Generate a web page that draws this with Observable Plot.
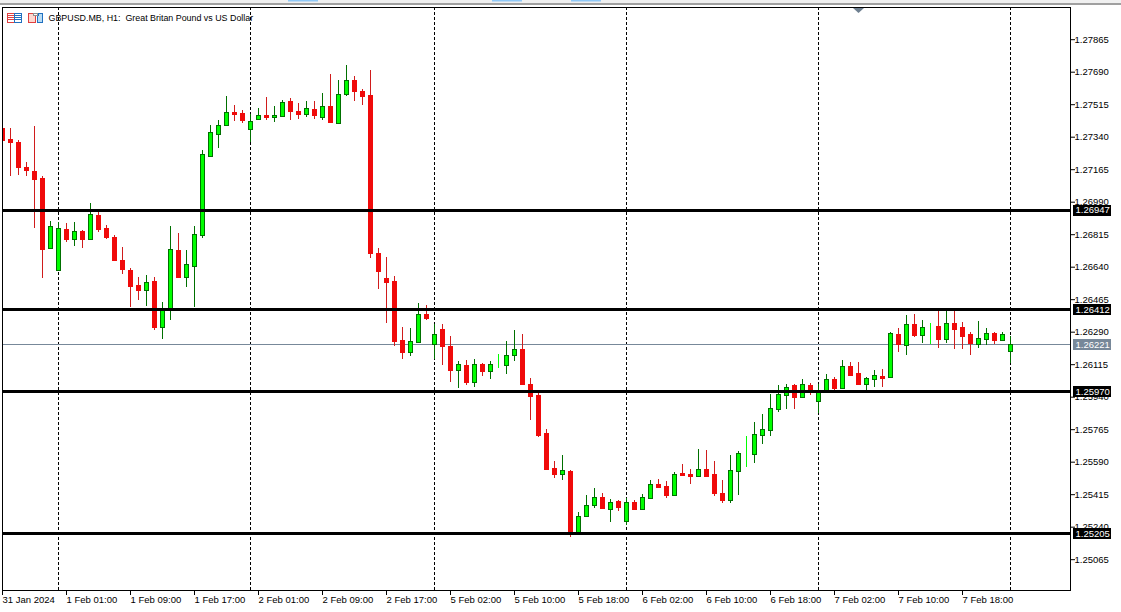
<!DOCTYPE html>
<html>
<head>
<meta charset="utf-8">
<script src="https://cdn.jsdelivr.net/npm/d3@7"></script>
<script src="https://cdn.jsdelivr.net/npm/@observablehq/plot@0.6"></script>
<style>
html,body{margin:0;padding:0;background:#fff;overflow:hidden}
#chart{position:absolute;left:0;top:0}
#chart svg{display:block}
#chrome{position:absolute;left:0;top:0;pointer-events:none}
</style>
</head>
<body>
<div id="chart"></div>
<svg id="chrome" width="1121" height="30">
  <rect x="0" y="3" width="1121" height="2" fill="#a0a0a0"/>
  <rect x="0" y="0" width="1121" height="3" fill="#f0f0f0"/>
  <rect x="288" y="0" width="30" height="1.5" fill="#90c8f6"/>
  <rect x="492" y="0" width="30" height="1.5" fill="#90c8f6"/>
  <rect x="571" y="0" width="30" height="1.5" fill="#90c8f6"/>
  <path d="M853 8h11l-5.500 5z" fill="#6e7f90"/>
  <g shape-rendering="crispEdges" stroke-width="1" fill="none">
    <rect x="7.500" y="13.500" width="7" height="9" stroke="#e04040" fill="#fff"/>
    <rect x="14.500" y="13.500" width="7" height="9" stroke="#2070c0" fill="#fff"/>
    <path d="M8 15.500h6M8 17.500h6M8 19.500h6" stroke="#e04040"/>
    <path d="M15 15.500h6M15 17.500h6M15 19.500h6" stroke="#2070c0"/>
    <path d="M28.500 13.500h5v2h2v7h-7z" stroke="#e04040" fill="#fcd8d0"/>
    <path d="M37.500 15.500h1v-2h4v9h-5z" stroke="#2070c0" fill="#b8dcf4"/>
    <rect x="33.500" y="13.500" width="4" height="2" stroke="#909090" fill="#fff"/>
  </g>
</svg>
<script>
const title = "GBPUSD.MB, H1:  Great Britan Pound vs US Dollar";

// Hourly candles, in 1e-5 price points
const opens = [127391,127332,127316,127181,127160,127122,126745,126627,126848,126794,
126837,126794,126923,126853,126804,126680,126627,126546,126519,126568,
126319,126417,126734,126589,126648,126815,127241,127358,127407,127477,
127472,127386,127440,127461,127450,127456,127537,127483,127466,127494,
127450,127510,127418,127574,127650,127591,127569,126718,126584,126568,
126250,126185,126239,126389,126228,126309,126218,126088,126115,126023,
126120,126083,126115,126115,126169,126201,126013,125953,125749,125560,
125528,125544,125210,125302,125361,125404,125339,125383,125275,125377,
125339,125399,125474,125463,125415,125534,125528,125517,125555,125528,
125426,125388,125544,125646,125636,125738,125765,125878,125953,126007,
125943,126007,125921,125970,126040,125991,126110,126072,126013,126040,
126056,126050,126282,126223,126335,126277,126319,126325,126255,126341,
126319,126282,126228,126255,126288,126250,126191];
const highs = [127391,127386,127322,127203,127396,127127,126885,126880,126874,126880,
126837,126981,126939,126864,126810,126745,126632,126584,126595,126584,
126449,126858,126820,126729,126858,127267,127402,127429,127558,127510,
127483,127461,127494,127553,127504,127537,127548,127520,127531,127531,
127574,127676,127645,127725,127665,127596,127698,126740,126691,126589,
126314,126309,126443,126433,126330,126330,126266,126131,126137,126142,
126120,126131,126169,126239,126299,126277,126040,125959,125765,125592,
125625,125544,125318,125410,125447,125420,125388,125383,125393,125383,
125415,125491,125496,125485,125534,125576,125550,125657,125652,125592,
125491,125625,125646,125727,125803,125846,125953,126002,126007,126007,
126034,126013,126007,126061,126045,126137,126126,126126,126045,126083,
126088,126288,126309,126379,126384,126352,126335,126400,126411,126411,
126341,126288,126346,126309,126288,126288,126266];
const lows = [127327,127127,127133,127127,126848,126579,126734,126627,126772,126750,
126740,126788,126826,126788,126675,126600,126422,126460,126427,126299,
126250,126352,126589,126530,126422,126794,127235,127278,127407,127423,
127412,127311,127434,127429,127418,127450,127429,127434,127445,127434,
127429,127418,127418,127558,127531,127510,126686,126519,126335,126212,
126142,126158,126234,126352,126142,126110,126018,125985,126002,125991,
126050,126034,126094,126061,126131,126002,125814,125722,125555,125501,
125491,125183,125194,125296,125339,125334,125264,125323,125248,125329,
125334,125399,125447,125393,125415,125517,125469,125512,125507,125404,
125366,125366,125410,125560,125582,125684,125727,125856,125873,125873,
125937,125948,125851,125959,125975,125991,126056,126013,125975,125991,
125991,126045,126180,126163,126261,126228,126223,126201,126228,126196,
126196,126163,126201,126218,126223,126250,126120];
const closes = [127327,127316,127181,127165,127117,126740,126864,126853,126794,126837,
126794,126928,126848,126804,126680,126632,126541,126519,126562,126319,
126411,126740,126589,126658,126820,127251,127369,127407,127477,127466,
127434,127429,127461,127450,127461,127531,127483,127466,127499,127461,
127510,127423,127574,127650,127591,127564,126718,126622,126562,126245,
126185,126245,126389,126368,126282,126218,126088,126120,126023,126120,
126083,126120,126115,126169,126201,126013,125948,125738,125555,125528,
125550,125215,125302,125361,125404,125345,125377,125350,125377,125339,
125404,125474,125458,125415,125528,125523,125517,125555,125517,125426,
125388,125550,125641,125646,125743,125770,125884,125959,125997,125943,
126013,125975,125970,126040,125991,126110,126061,126013,126045,126061,
126045,126288,126228,126335,126277,126319,126319,126255,126341,126309,
126271,126234,126261,126288,126250,126282,126228];

const levels = [1.26947, 1.26412, 1.25970, 1.25205];
const lastPrice = [1.26221];
const priceTicks = [1.27865,1.27690,1.27515,1.27340,1.27165,1.26990,1.26815,1.26640,1.26465,1.26290,1.26115,1.25940,1.25765,1.25590,1.25415,1.25240,1.25065];
const timeTickIdx = [0,8,16,24,32,40,48,56,64,72,80,88,96,104,112,120];
const timeTickLabels = ["31 Jan 2024","1 Feb 01:00","1 Feb 09:00","1 Feb 17:00","2 Feb 01:00","2 Feb 09:00","2 Feb 17:00","5 Feb 02:00","5 Feb 10:00","5 Feb 18:00","6 Feb 02:00","6 Feb 10:00","6 Feb 18:00","7 Feb 02:00","7 Feb 10:00","7 Feb 18:00"];
const periodBreaks = [7,31,54,78,102,126];

const candles = opens.map((o,i)=>({i, open:o/1e5, high:highs[i]/1e5, low:lows[i]/1e5, close:closes[i]/1e5}));
const GREEN_FILL="#00ff00", GREEN_LINE="#007000", RED_FILL="#f00a0a", RED_LINE="#d01c1c";
const wickColor = d => d.open===d.close ? GREEN_FILL : d.close>d.open ? GREEN_LINE : RED_LINE;
const bodyFill  = d => d.close>=d.open ? GREEN_FILL : RED_FILL;
const bodyStroke= d => d.open===d.close ? GREEN_FILL : d.close>d.open ? GREEN_LINE : RED_FILL;
const fmt = d3.format(".5f");
const X0 = 0, X1 = 133.5, LABEL_L = 133.875, LABEL_R = 138.6, LABEL_T = 133.875;
const FS = 9.5;

const chart = Plot.plot({
  width:1121, height:612,
  marginLeft:2, marginRight:51, marginTop:7, marginBottom:22,
  style:{fontFamily:"'Liberation Sans', sans-serif", fontSize:FS+"px", background:"#fff", color:"#000"},
  x:{type:"linear", domain:[X0,X1], axis:null},
  y:{type:"linear", domain:[1.248990,1.280384], axis:null},
  marks:[
    Plot.ruleX(periodBreaks,{x:d=>d, stroke:"#000", strokeWidth:1, strokeDasharray:"3,2", shapeRendering:"crispEdges"}),
    Plot.ruleY(lastPrice,{y:d=>d, x1:X0, x2:X1, stroke:"#778899", strokeWidth:1, shapeRendering:"crispEdges"}),
    Plot.ruleX(candles,{x:"i", y1:"low", y2:"high", stroke:wickColor, strokeWidth:1, shapeRendering:"crispEdges"}),
    Plot.rect(candles,{x1:d=>d.i-0.25, x2:d=>d.i+0.25, y1:"open", y2:"close", fill:bodyFill, stroke:bodyStroke, strokeWidth:1, dx:0.5, dy:1, shapeRendering:"crispEdges", clip:true}),
    Plot.ruleY(levels,{y:d=>d, x1:X0, x2:X1, stroke:"#000", strokeWidth:3, shapeRendering:"crispEdges"}),
    Plot.frame({stroke:"#000", strokeWidth:1, shapeRendering:"crispEdges"}),
    Plot.axisY({anchor:"right", ticks:priceTicks, tickFormat:fmt, tickSize:4, tickPadding:0, label:null, fontSize:FS}),
    Plot.axisX({anchor:"bottom", ticks:timeTickIdx, tickFormat:i=>timeTickLabels[timeTickIdx.indexOf(i)], tickSize:5, tickPadding:1, textAnchor:"start", label:null, fontSize:FS}),
    Plot.ruleY(levels,{y:d=>d, x1:LABEL_L, x2:LABEL_R, stroke:"#000", strokeWidth:11, shapeRendering:"crispEdges"}),
    Plot.ruleY(lastPrice,{y:d=>d, x1:LABEL_L, x2:LABEL_R, stroke:"#778899", strokeWidth:11, shapeRendering:"crispEdges"}),
    Plot.text(levels,{y:d=>d, x:LABEL_T, text:fmt, fill:"#fff", textAnchor:"start", dx:2, fontSize:FS}),
    Plot.text(lastPrice,{y:d=>d, x:LABEL_T, text:fmt, fill:"#fff", textAnchor:"start", dx:2, fontSize:FS}),
    Plot.text([title],{frameAnchor:"top-left", text:d=>d, dx:46, dy:7, textAnchor:"start", fill:"#000", fontSize:8.9})
  ]
});
document.getElementById("chart").appendChild(chart);
</script>
</body>
</html>
